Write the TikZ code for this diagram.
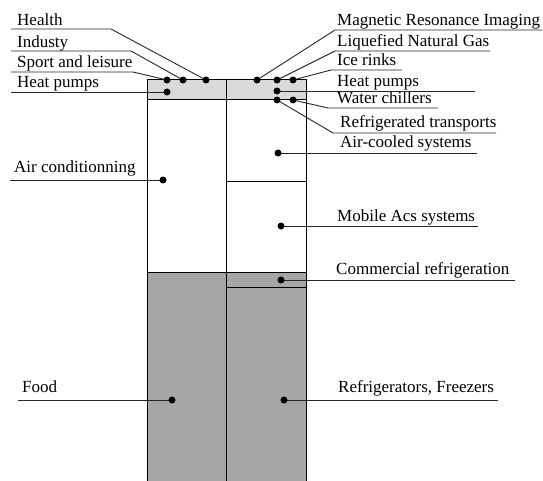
\documentclass[tikz,border=0pt]{standalone}
\usepackage{fontspec}
\setmainfont{Liberation Serif}
\begin{document}
\begin{tikzpicture}[x=1pt,y=-1pt,
  lbl/.style={anchor=base west, inner sep=0pt, font=\fontsize{17}{19}\selectfont},
  conn/.style={draw=black!85, line width=0.9pt},
  barline/.style={draw=black, line width=1pt},
  dotc/.style={circle, fill=black, inner sep=0pt, minimum size=7pt}]
\useasboundingbox (0,0) rectangle (543,481);
% fills
\fill[black!15] (147,80) rectangle (306,100);
\fill[black!35] (147,272) rectangle (306,481);
% bar outlines
\draw[barline] (147,481) -- (147,80) -- (306,80) -- (306,481);
\draw[barline] (226,80) -- (226,481);
\draw[barline] (147,100) -- (306,100);
\draw[barline] (226,182) -- (306,182);
\draw[barline] (147,272) -- (306,272);
\draw[barline] (226,287) -- (306,287);

% dot positions
\coordinate (pHealth) at (206,80);
\coordinate (pIndus) at (183,80);
\coordinate (pSport) at (167,80);
\coordinate (pHeatL) at (167,92);
\coordinate (pAir) at (163,180);
\coordinate (pFood) at (172,400);
\coordinate (pMRI) at (257,80);
\coordinate (pLNG) at (277,80);
\coordinate (pIce) at (293,80);
\coordinate (pHeatR) at (277,91);
\coordinate (pWater) at (293,100);
\coordinate (pRefT) at (277,100);
\coordinate (pAirC) at (278,153);
\coordinate (pMob) at (281,226);
\coordinate (pCom) at (281,280);
\coordinate (pFrig) at (284,400);

% bends and ends of the leader lines
\coordinate (kHealth) at (111,29);  \coordinate (eHealth) at (11,29);
\coordinate (kIndus) at (131,51);   \coordinate (eIndus) at (11,51);
\coordinate (kSport) at (133,72);   \coordinate (eSport) at (11,72);
\coordinate (eHeatL) at (11,92);
\coordinate (eAir) at (10,180);
\coordinate (eFood) at (18,400);
\coordinate (kMRI) at (335,30);     \coordinate (eMRI) at (542,30);
\coordinate (kLNG) at (335,51);     \coordinate (eLNG) at (490,51);
\coordinate (kIce) at (331,70);     \coordinate (eIce) at (402,70);
\coordinate (eHeatR) at (475,91);
\coordinate (kWater) at (328,108);  \coordinate (eWater) at (438,108);
\coordinate (kRefT) at (333,133);   \coordinate (eRefT) at (496,133);
\coordinate (eAirC) at (477,153);
\coordinate (eMob) at (478,226);
\coordinate (eCom) at (515,280);
\coordinate (eFrig) at (498,400);

% labels
\node[lbl] (tHealth) at (17,26) {Health};
\node[lbl] (tIndus) at (17,48) {Industy};
\node[lbl] (tSport) at (17,68) {Sport and leisure};
\node[lbl] (tHeatL) at (17,88) {Heat pumps};
\node[lbl] (tAir) at (14,173) {Air conditionning};
\node[lbl] (tFood) at (22,392) {Food};
\node[lbl] (tMRI) at (337,26) {Magnetic Resonance Imaging};
\node[lbl] (tLNG) at (337,47) {Liquefied Natural Gas};
\node[lbl] (tIce) at (337,66) {Ice rinks};
\node[lbl] (tHeatR) at (337,87) {Heat pumps};
\node[lbl] (tWater) at (337,104) {Water chillers};
\node[lbl] (tRefT) at (340,128) {Refrigerated transports};
\node[lbl] (tAirC) at (340,148) {Air-cooled systems};
\node[lbl] (tMob) at (337,222) {Mobile Acs systems};
\node[lbl] (tCom) at (336,274) {Commercial refrigeration};
\node[lbl] (tFrig) at (338,392) {Refrigerators, Freezers};

% leader lines
\draw[conn] (pHealth) -- (kHealth) -- (eHealth);
\draw[conn] (pIndus) -- (kIndus) -- (eIndus);
\draw[conn] (pSport) -- (kSport) -- (eSport);
\draw[conn] (pHeatL) -- (eHeatL);
\draw[conn] (pAir) -- (eAir);
\draw[conn] (pFood) -- (eFood);
\draw[conn] (pMRI) -- (kMRI) -- (eMRI);
\draw[conn] (pLNG) -- (kLNG) -- (eLNG);
\draw[conn] (pIce) -- (kIce) -- (eIce);
\draw[conn] (pHeatR) -- (eHeatR);
\draw[conn] (pWater) -- (kWater) -- (eWater);
\draw[conn] (pRefT) -- (kRefT) -- (eRefT);
\draw[conn] (pAirC) -- (eAirC);
\draw[conn] (pMob) -- (eMob);
\draw[conn] (pCom) -- (eCom);
\draw[conn] (pFrig) -- (eFrig);

% dots
\foreach \p in {pHealth,pIndus,pSport,pHeatL,pAir,pFood,pMRI,pLNG,pIce,pHeatR,pWater,pRefT,pAirC,pMob,pCom,pFrig}
  \node[dotc] (d\p) at (\p) {};
\end{tikzpicture}
\end{document}
